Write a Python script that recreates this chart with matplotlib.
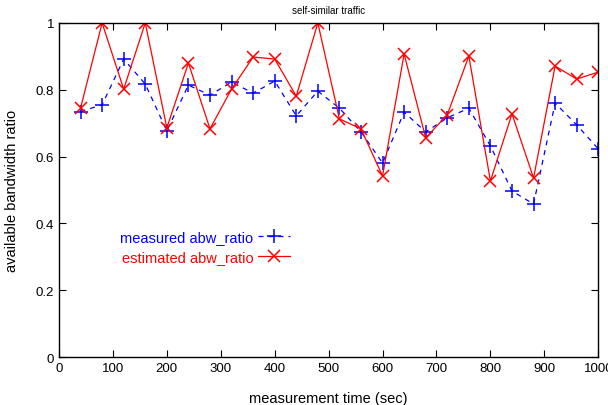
import matplotlib
matplotlib.use("Agg")
import matplotlib.pyplot as plt

plt.rcParams['font.family'] = ['Liberation Sans', 'DejaVu Sans']

# measurement times (sec)
times = [40, 80, 120, 160, 200, 240, 280, 320, 360, 400, 440, 480, 520,
         560, 600, 640, 680, 720, 760, 800, 840, 880, 920, 960, 1000]

measured = [0.735, 0.755, 0.892, 0.817, 0.677, 0.814, 0.784, 0.823, 0.790,
            0.826, 0.722, 0.796, 0.745, 0.674, 0.581, 0.733, 0.674, 0.716,
            0.745, 0.632, 0.497, 0.458, 0.760, 0.695, 0.623]

estimated = [0.745, 1.0, 0.802, 1.0, 0.686, 0.880, 0.683, 0.802, 0.898,
             0.892, 0.781, 1.0, 0.713, 0.683, 0.542, 0.907, 0.656, 0.725,
             0.901, 0.527, 0.728, 0.536, 0.871, 0.832, 0.853]

fig = plt.figure(figsize=(6.08, 4.06), dpi=100)
ax = fig.add_axes([0.097, 0.118, 0.887, 0.823])

ax.plot(times, measured, color='blue', linestyle=(0, (4, 4)), linewidth=0.9,
        marker='+', markersize=9.5, markeredgewidth=1.1,
        label='measured abw_ratio')
ax.plot(times, estimated, color='red', linestyle='-', linewidth=0.9,
        marker='x', markersize=8.5, markeredgewidth=1.1,
        label='estimated abw_ratio')

ax.set_xlim(0, 1000)
ax.set_ylim(0, 1)
ax.set_xticks(range(0, 1001, 100))
ax.set_yticks([0, 0.2, 0.4, 0.6, 0.8, 1])
ax.set_yticklabels(['0', '0.2', '0.4', '0.6', '0.8', '1'])
ax.tick_params(direction='in', top=True, right=True, length=5, labelsize=9.5)
for s in ax.spines.values():
    s.set_linewidth(1.0)

ax.set_xlabel('measurement time (sec)', fontsize=10.5, labelpad=12)
ax.set_ylabel('available bandwidth ratio', fontsize=10.5, labelpad=12)
ax.set_title('self-similar traffic', fontsize=7, pad=7)

leg = ax.legend(loc='center right', bbox_to_anchor=(0.452, 0.329),
                markerfirst=False, frameon=False, fontsize=10.5,
                handlelength=2.2, handletextpad=0.3, labelspacing=0.45)
for txt, c in zip(leg.get_texts(), ['blue', 'red']):
    txt.set_color(c)

fig.savefig('out.png', dpi=100)
